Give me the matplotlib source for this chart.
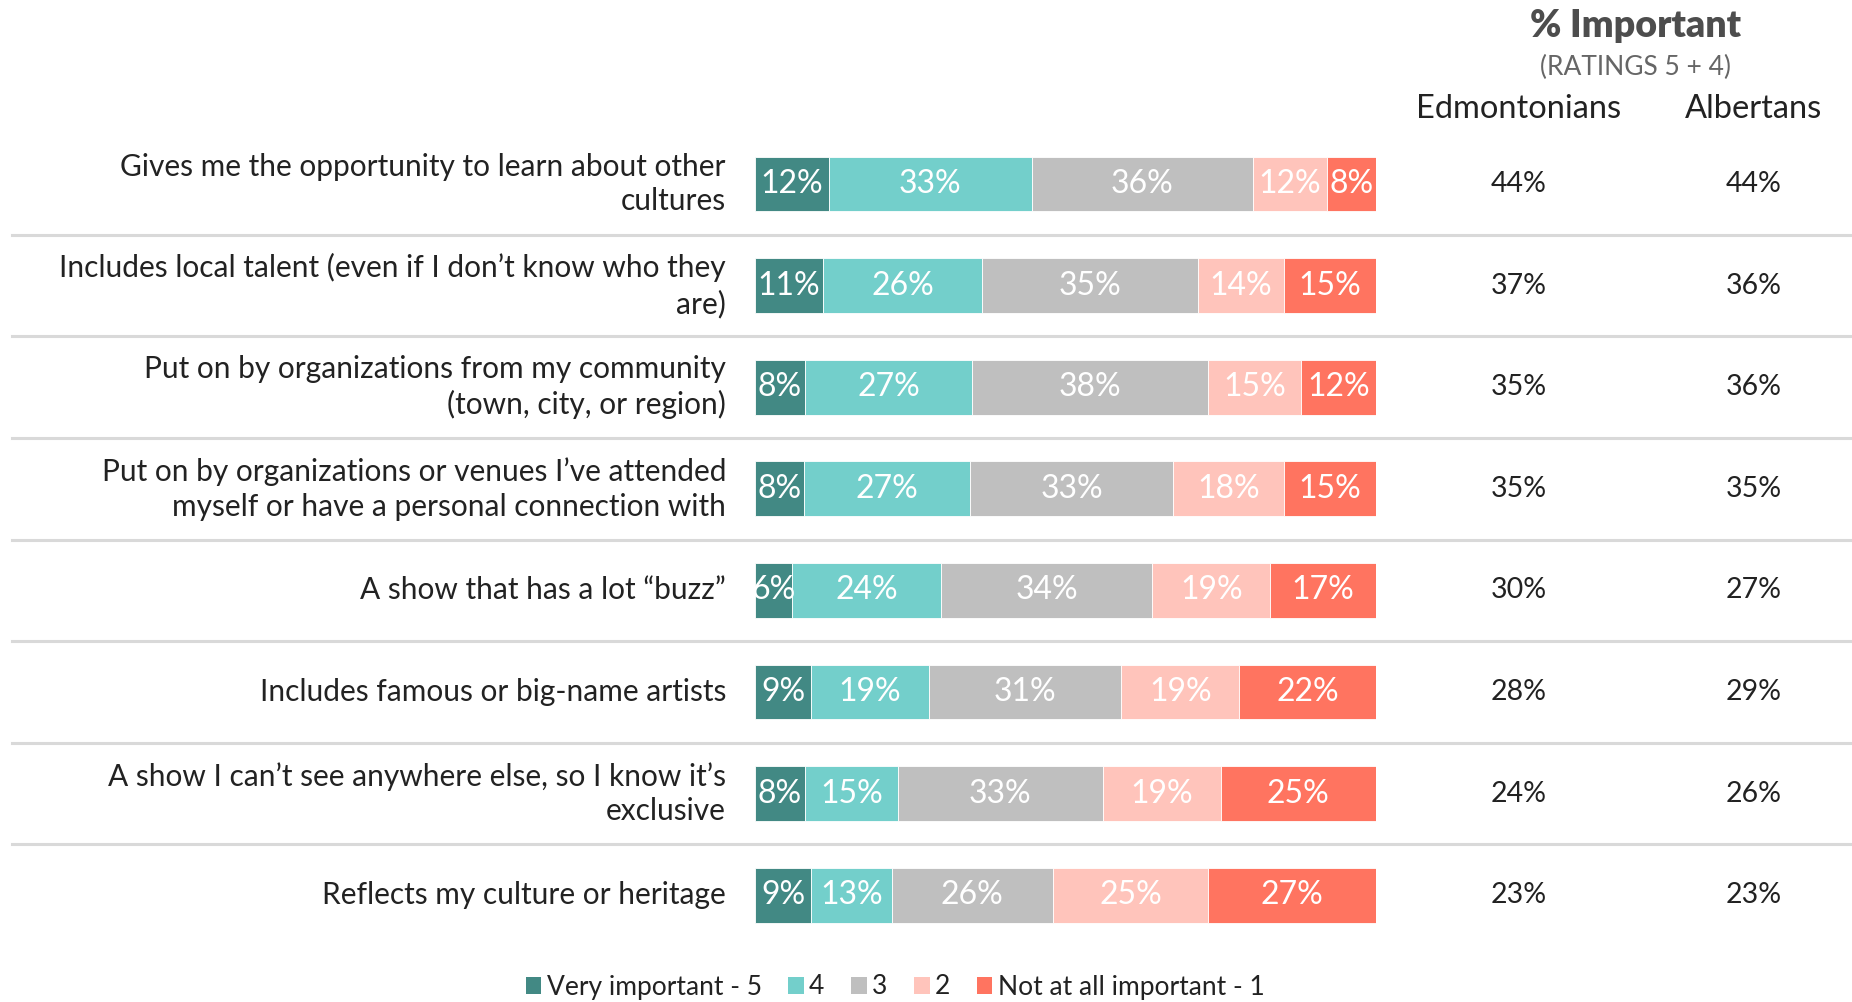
import matplotlib
matplotlib.use("Agg")
import matplotlib.pyplot as plt
import matplotlib.transforms as mtransforms
from matplotlib.lines import Line2D
from matplotlib.patches import Patch
import numpy as np

plt.rcParams['font.family'] = ['Lato', 'DejaVu Sans']

# Data
items = [
    "Gives me the opportunity to learn about other\ncultures",
    "Includes local talent (even if I don\u2019t know who they\nare)",
    "Put on by organizations from my community\n(town, city, or region)",
    "Put on by organizations or venues I\u2019ve attended\nmyself or have a personal connection with",
    "A show that has a lot \u201cbuzz\u201d",
    "Includes famous or big-name artists",
    "A show I can\u2019t see anywhere else, so I know it\u2019s\nexclusive",
    "Reflects my culture or heritage",
]
very_important = [12, 11, 8, 8, 6, 9, 8, 9]
rating_4 = [33, 26, 27, 27, 24, 19, 15, 13]
rating_3 = [36, 35, 38, 33, 34, 31, 33, 26]
rating_2 = [12, 14, 15, 18, 19, 19, 19, 25]
not_important = [8, 15, 12, 15, 17, 22, 25, 27]
edmontonians = [44, 37, 35, 35, 30, 28, 24, 23]
albertans = [44, 36, 36, 35, 27, 29, 26, 23]
legend_labels = ["Very important - 5", "4", "3", "2", "Not at all important - 1"]

colors = ["#428984", "#73CFCB", "#BFBFBF", "#FFC4BB", "#FF7460"]
text_color = "#222222"

W, H = 1852, 1002
fig = plt.figure(figsize=(W / 100, H / 100), dpi=100)

# bar area in pixels
bx0, bx1 = 755, 1376
row0, pitch = 184, 101.6
ytop = row0 - pitch / 2
ybot = row0 + 7 * pitch + pitch / 2
ax = fig.add_axes([bx0 / W, 1 - ybot / H, (bx1 - bx0) / W, (ybot - ytop) / H])
ax.set_xlim(0, 1)
ax.set_ylim(7.5, -0.5)
ax.axis("off")

series = np.array([very_important, rating_4, rating_3, rating_2, not_important], dtype=float)
shares = series / series.sum(axis=0)
ypos = np.arange(len(items))
left = np.zeros(len(items))
for k in range(len(series)):
    ax.barh(ypos, shares[k], left=left, height=0.54, color=colors[k],
            edgecolor="white", linewidth=0.6)
    for i in range(len(items)):
        t = ax.text(left[i] + shares[k][i] / 2, ypos[i], f"{int(series[k][i])}%",
                    ha="center", va="center", color="white", fontsize=23)
        t.set_clip_on(True)
    left += shares[k]

trans = mtransforms.blended_transform_factory(fig.transFigure, ax.transData)

for i, lab in enumerate(items):
    ax.text(726 / W, ypos[i], lab, transform=trans, ha="right", va="center",
            fontsize=21.5, color=text_color, linespacing=1.3)
    ax.text(1519 / W, ypos[i], f"{edmontonians[i]}%", transform=trans,
            ha="center", va="center", fontsize=20.5, color=text_color)
    ax.text(1754 / W, ypos[i], f"{albertans[i]}%", transform=trans,
            ha="center", va="center", fontsize=20.5, color=text_color)

for i in range(len(items) - 1):
    ax.add_line(Line2D([12 / W, 1.0], [i + 0.5, i + 0.5], transform=trans,
                       color="#D9D9D9", linewidth=2.2, clip_on=False))

# headers
fig.text(1636 / W, 1 - 26 / H, "% Important", ha="center", va="center",
         fontsize=27, fontweight="heavy", color="#4D4D4D")
fig.text(1636 / W, 1 - 67 / H, "(RATINGS 5 + 4)", ha="center", va="center",
         fontsize=19, color="#666666")
fig.text(1519 / W, 1 - 109 / H, "Edmontonians", ha="center", va="center",
         fontsize=23.5, color=text_color)
fig.text(1754 / W, 1 - 109 / H, "Albertans", ha="center", va="center",
         fontsize=23.5, color=text_color)

handles = [Patch(facecolor=c, edgecolor="none") for c in colors]
fig.legend(handles, legend_labels, loc="center", bbox_to_anchor=(895 / W, 1 - 987 / H),
           ncol=5, frameon=False, fontsize=19, handlelength=0.6, handleheight=0.6,
           handletextpad=0.2, columnspacing=1.0, labelcolor=text_color)

fig.savefig("out.png", dpi=100, facecolor="white")
